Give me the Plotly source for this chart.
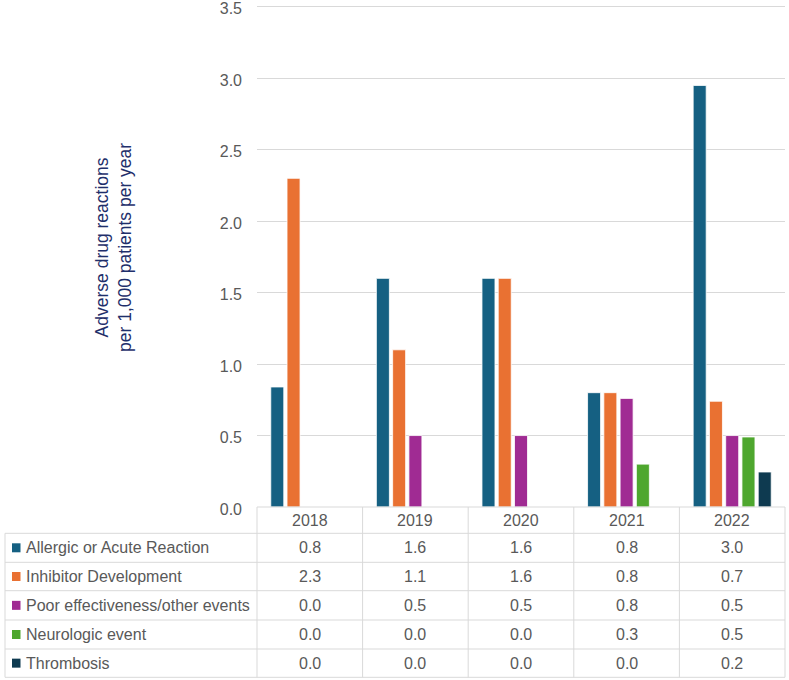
import plotly.graph_objects as go

years = ["2018", "2019", "2020", "2021", "2022"]
series_names = [
    "Allergic or Acute Reaction",
    "Inhibitor Development",
    "Poor effectiveness/other events",
    "Neurologic event",
    "Thrombosis",
]
allergic = [0.84, 1.6, 1.6, 0.8, 2.95]
inhibitor = [2.3, 1.1, 1.6, 0.8, 0.74]
poor = [0.0, 0.5, 0.5, 0.76, 0.5]
neuro = [0.0, 0.0, 0.0, 0.3, 0.49]
thrombosis = [0.0, 0.0, 0.0, 0.0, 0.245]
series_values = [allergic, inhibitor, poor, neuro, thrombosis]
colors = ["#156082", "#E97132", "#A02B93", "#4EA72E", "#0E3A50"]
y_ticks = [0, 0.5, 1.0, 1.5, 2.0, 2.5, 3.0, 3.5]

W, H = 789, 680
L, R, T, B = 257, 785, 4, 507  # plot area in pixels


def px(x):
    return (x - L) / (R - L)


def py(y):
    return (B - y) / (B - T)


fig = go.Figure()
for name, vals, col in zip(series_names, series_values, colors):
    fig.add_trace(go.Bar(
        x=years, y=vals, name=name,
        marker=dict(color=col, line=dict(color="white", width=0.8)),
    ))

grid = "#D9D9D9"
txt = "#595959"
font = "Liberation Sans, Arial, sans-serif"
fs = 16

shapes = []
annotations = []

# table geometry (pixels)
row_lines = [533.3, 562.3, 590.7, 620, 649, 677.3]
col_lines = [L + i * (R - L) / 5 for i in range(6)]
left_edge = 5

# horizontal lines
shapes.append(dict(type="line", xref="paper", yref="paper",
                   x0=px(L), x1=px(R), y0=py(B), y1=py(B),
                   line=dict(color=grid, width=1)))
for yl in row_lines:
    shapes.append(dict(type="line", xref="paper", yref="paper",
                       x0=px(left_edge), x1=px(R), y0=py(yl), y1=py(yl),
                       line=dict(color=grid, width=1)))
# vertical lines
shapes.append(dict(type="line", xref="paper", yref="paper",
                   x0=px(left_edge), x1=px(left_edge), y0=py(row_lines[0]), y1=py(row_lines[-1]),
                   line=dict(color=grid, width=1)))
for xc in col_lines:
    shapes.append(dict(type="line", xref="paper", yref="paper",
                       x0=px(xc), x1=px(xc), y0=py(B), y1=py(row_lines[-1]),
                       line=dict(color=grid, width=1)))

# year headers
for i, yr in enumerate(years):
    cx = (col_lines[i] + col_lines[i + 1]) / 2
    annotations.append(dict(xref="paper", yref="paper", x=px(cx), y=py((B + row_lines[0]) / 2),
                            text=yr, showarrow=False, xanchor="center", yanchor="middle",
                            font=dict(size=fs, color=txt, family=font)))

for r, (name, vals, col) in enumerate(zip(series_names, series_values, colors)):
    y0p, y1p = row_lines[r], row_lines[r + 1]
    cy = (y0p + y1p) / 2
    # legend key
    shapes.append(dict(type="rect", xref="paper", yref="paper",
                       x0=px(12), x1=px(20.5), y0=py(cy - 4.5), y1=py(cy + 4.5),
                       fillcolor=col, line=dict(width=0)))
    annotations.append(dict(xref="paper", yref="paper", x=px(24), y=py(cy),
                            text=name, showarrow=False, xanchor="left", yanchor="middle",
                            font=dict(size=fs, color=txt, family=font)))
    for i, v in enumerate(vals):
        cx = (col_lines[i] + col_lines[i + 1]) / 2
        annotations.append(dict(xref="paper", yref="paper", x=px(cx), y=py(cy),
                                text=f"{v:.1f}", showarrow=False, xanchor="center", yanchor="middle",
                                font=dict(size=fs, color=txt, family=font)))

# y-axis title
annotations.append(dict(xref="paper", yref="paper", x=px(113), y=py(248),
                        text="Adverse drug reactions<br>per 1,000 patients per year",
                        textangle=-90, showarrow=False, xanchor="center", yanchor="middle",
                        font=dict(size=17.5, color="#1F2F6B", family=font)))

fig.update_layout(
    width=W, height=H,
    margin=dict(l=L, r=W - R, t=T, b=H - B, autoexpand=False),
    paper_bgcolor="white", plot_bgcolor="white",
    barmode="group", bargap=0.23, bargroupgap=0.2,
    showlegend=False,
    shapes=shapes, annotations=annotations,
    xaxis=dict(showticklabels=False, showgrid=False, zeroline=False, showline=False, ticks="",
               automargin=False),
    yaxis=dict(range=[0, 3.52], tickvals=y_ticks, tickformat=".1f", automargin=False,
               showgrid=True, gridcolor=grid, ticklabeloverflow="allow",
               gridwidth=1, zeroline=False, showline=False, ticks="",
               tickfont=dict(size=fs, color=txt, family=font), ticklabelstandoff=14,
               ticklabelshift=2),
)

fig.write_html("out.html")
